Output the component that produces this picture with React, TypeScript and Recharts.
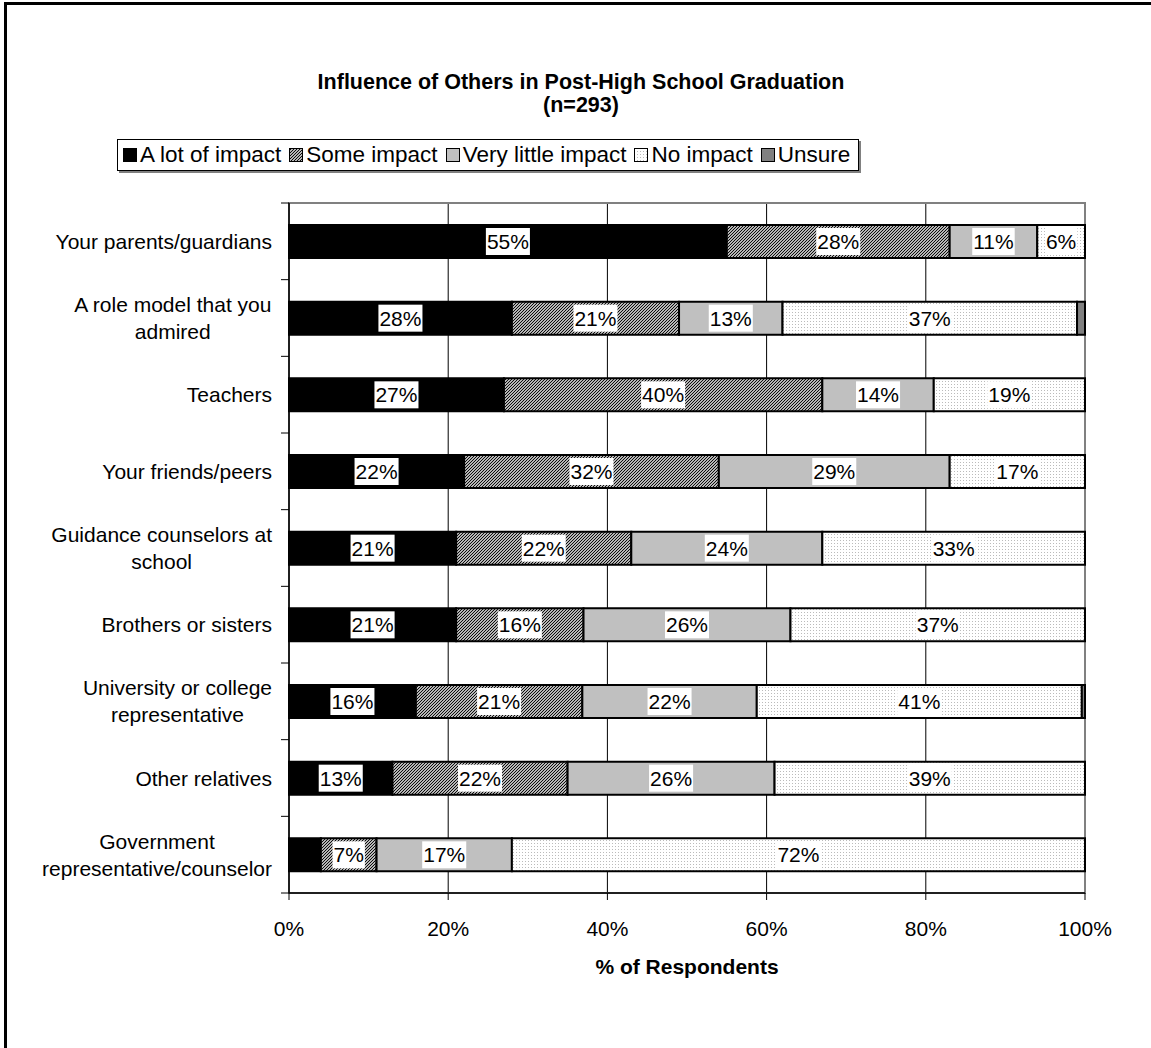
import {
  BarChart,
  Bar,
  XAxis,
  YAxis,
  CartesianGrid,
  LabelList,
  ReferenceArea,
} from "recharts";

// survey rows, top to bottom
const categories = [
  "Your parents/guardians",
  "A role model that you\nadmired",
  "Teachers",
  "Your friends/peers",
  "Guidance counselors at\nschool",
  "Brothers or sisters",
  "University or college\nrepresentative",
  "Other relatives",
  "Government\nrepresentative/counselor",
];

const aLotOfImpact = [55, 28, 27, 22, 21, 21, 16, 13, 4];
const someImpact = [28, 21, 40, 32, 22, 16, 21, 22, 7];
const veryLittleImpact = [11, 13, 14, 29, 24, 26, 22, 26, 17];
const noImpact = [6, 37, 19, 17, 33, 37, 41, 39, 72];
const unsure = [0, 1, 0, 0, 0, 0, 0.4, 0, 0];

const xTicks = [0, 0.2, 0.4, 0.6, 0.8, 1];

const data = categories.map((name, i) => ({
  name,
  aLot: aLotOfImpact[i],
  some: someImpact[i],
  veryLittle: veryLittleImpact[i],
  none: noImpact[i],
  unsure: unsure[i],
}));

const FONT = "Arial, 'Liberation Sans', sans-serif";
const FONT_SIZE = 21;

let measureCtx: CanvasRenderingContext2D | null = null;
const measure = (s: string, font = `${FONT_SIZE}px ${FONT}`) => {
  if (!measureCtx) measureCtx = document.createElement("canvas").getContext("2d");
  if (!measureCtx) return s.length * FONT_SIZE * 0.55;
  measureCtx.font = font;
  return measureCtx.measureText(s).width;
};

const series = [
  { key: "aLot", label: "A lot of impact", fill: "#000" },
  { key: "some", label: "Some impact", fill: "url(#hatch)" },
  { key: "veryLittle", label: "Very little impact", fill: "#c0c0c0" },
  { key: "none", label: "No impact", fill: "url(#dots)" },
  { key: "unsure", label: "Unsure", fill: "#808080" },
];

const legendFill: Record<string, string> = {
  aLot: "#000",
  some: "url(#lg-hatch)",
  veryLittle: "#c0c0c0",
  none: "url(#lg-dots)",
  unsure: "#808080",
};

const SegmentLabel = (props: any) => {
  const { x, y, width, height, value } = props;
  if (value == null || value < 5) return null;
  const text = `${value}%`;
  const tw = measure(text);
  const cx = x + width / 2;
  const cy = y + height / 2;
  const bh = Math.min(height - 4, 27);
  return (
    <g>
      <rect x={cx - tw / 2 - 1} y={cy - bh / 2} width={tw + 2} height={bh} fill="#fff" />
      <text
        x={cx}
        y={cy}
        dy="0.36em"
        textAnchor="middle"
        fontSize={FONT_SIZE}
        fontFamily={FONT}
        fill="#000"
      >
        {text}
      </text>
    </g>
  );
};

const CategoryTick = (props: any) => {
  const { x, y, payload, index } = props;
  const lines = String(payload.value).split("\n");
  const maxW = Math.max(...lines.map((l) => measure(l)));
  const half = payload.offset || 38.3;
  const axisX = x + 17;
  const lh = 27;
  return (
    <g>
      <line x1={axisX - 8} x2={axisX} y1={y - half} y2={y - half} stroke="#000" />
      {index === categories.length - 1 && (
        <line x1={axisX - 8} x2={axisX} y1={y + half} y2={y + half} stroke="#000" />
      )}
      {lines.map((l, i) => (
        <text
          key={i}
          x={x - maxW / 2}
          y={y + (i - (lines.length - 1) / 2) * lh}
          dy="0.36em"
          textAnchor="middle"
          fontSize={FONT_SIZE}
          fontFamily={FONT}
          fill="#000"
        >
          {l}
        </text>
      ))}
    </g>
  );
};

const LegendBox = () => (
  <div
    style={{
      position: "absolute",
      left: 117,
      top: 139,
      height: 30,
      padding: "0 8px 0 5px",
      border: "1px solid #000",
      boxShadow: "2px 2px 0 #808080",
      display: "flex",
      alignItems: "center",
      fontFamily: FONT,
      fontSize: 22.5,
      background: "#fff",
      whiteSpace: "nowrap",
    }}
  >
    {series.map((s, i) => (
      <div key={s.key} style={{ display: "flex", alignItems: "center", marginLeft: i ? 8 : 0 }}>
        <svg width={14} height={14} style={{ marginRight: 3 }}>
          <defs>
            <pattern id="lg-hatch" patternUnits="userSpaceOnUse" width="3" height="3">
              <rect width="3" height="3" fill="#fff" />
              <path d="M-1,1 l2,-2 M0,3 l3,-3 M2,4 l2,-2" stroke="#000" strokeWidth="1.1" />
            </pattern>
            <pattern id="lg-dots" patternUnits="userSpaceOnUse" width="3" height="3">
              <rect width="3" height="3" fill="#fff" />
              <rect width="1" height="1" fill="#bbb" />
            </pattern>
          </defs>
          <rect x={0.5} y={0.5} width={13} height={13} fill={legendFill[s.key]} stroke="#000" />
        </svg>
        <span>{s.label}</span>
      </div>
    ))}
  </div>
);

const App = () => {
  return (
    <div
      style={{
        position: "absolute",
        left: 0,
        top: 0,
        width: 1151,
        height: 1048,
        overflow: "hidden",
        background: "#fff",
      }}
    >
      {/* chart frame, left and top edges */}
      <div
        style={{
          position: "absolute",
          left: 4,
          top: 2,
          width: 1200,
          height: 1100,
          borderLeft: "3px solid #000",
          borderTop: "3px solid #000",
        }}
      />
      <div
        style={{
          position: "absolute",
          left: 0,
          top: 71,
          width: 1162,
          textAlign: "center",
          fontFamily: FONT,
          fontWeight: "bold",
          fontSize: 21.5,
          lineHeight: "23px",
        }}
      >
        Influence of Others in Post-High School Graduation
        <br />
        (n=293)
      </div>
      <LegendBox />
      <div style={{ position: "absolute", left: 0, top: 0 }}>
        <BarChart
          width={1151}
          height={1048}
          data={data}
          layout="vertical"
          stackOffset="expand"
          barSize={33}
          margin={{ top: 203, right: 66, bottom: 65, left: 9 }}
        >
          <defs>
            <pattern id="hatch" patternUnits="userSpaceOnUse" width="3" height="3">
              <rect width="3" height="3" fill="#fff" />
              <path d="M-1,1 l2,-2 M0,3 l3,-3 M2,4 l2,-2" stroke="#000" strokeWidth="1.1" />
            </pattern>
            <pattern id="dots" patternUnits="userSpaceOnUse" width="3" height="3">
              <rect width="3" height="3" fill="#fff" />
              <rect width="1" height="1" fill="#bbb" />
            </pattern>
          </defs>
          <CartesianGrid horizontal={false} stroke="#000" strokeWidth={1} />
          <ReferenceArea
            x1={0}
            x2={1}
            fill="none"
            stroke="#808080"
            strokeWidth={2}
            ifOverflow="visible"
          />
          <XAxis
            type="number"
            domain={[0, 1]}
            ticks={xTicks}
            tickFormatter={(v: number) => `${Math.round(v * 100)}%`}
            tickSize={7}
            tickMargin={21}
            height={90}
            axisLine={{ stroke: "#000", strokeWidth: 1.5 }}
            tickLine={{ stroke: "#000" }}
            tick={{ fontSize: FONT_SIZE, fontFamily: FONT, fill: "#000" }}
            label={{
              value: "% of Respondents",
              position: "insideBottom",
              offset: 9,
              style: { fontSize: FONT_SIZE, fontFamily: FONT, fontWeight: "bold", fill: "#000" },
            }}
          />
          <YAxis
            type="category"
            dataKey="name"
            width={280}
            tickSize={8}
            tickMargin={9}
            tickLine={false}
            axisLine={{ stroke: "#000", strokeWidth: 1.5 }}
            tick={<CategoryTick />}
            interval={0}
          />
          {series.map((s) => (
            <Bar
              key={s.key}
              dataKey={s.key}
              stackId="a"
              fill={s.fill}
              stroke="#000"
              strokeWidth={2}
              isAnimationActive={false}
            >
              <LabelList dataKey={s.key} content={<SegmentLabel />} />
            </Bar>
          ))}
        </BarChart>
      </div>
    </div>
  );
};

export default App;
